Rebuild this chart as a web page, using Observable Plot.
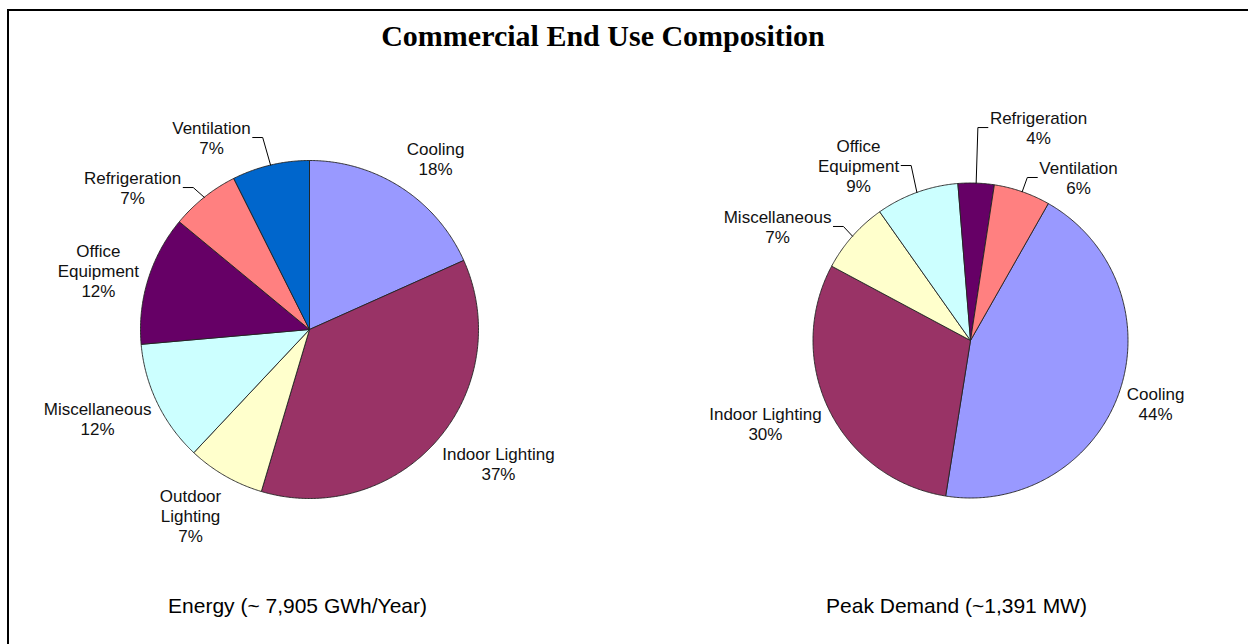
<!DOCTYPE html>
<html>
<head>
<meta charset="utf-8">
<script src="https://cdn.jsdelivr.net/npm/d3@7"></script>
<script src="https://cdn.jsdelivr.net/npm/@observablehq/plot@0.6"></script>
<style>
  html, body { margin: 0; padding: 0; background: #fff; }
  #wrap { position: relative; width: 1248px; height: 644px; overflow: hidden; }
  #frame { position: absolute; left: 7px; top: 9px; width: 1300px; height: 700px;
           border-left: 2.5px solid #000; border-top: 2.5px solid #000; box-sizing: border-box; }
  #title { position: absolute; left: 0; top: 19px; width: 1206px; text-align: center;
           font-family: "Liberation Serif", "Times New Roman", serif; font-weight: bold;
           font-size: 30px; line-height: 34px; color: #000; z-index: 2; }
  #chart { position: absolute; left: 0; top: 0; }
</style>
</head>
<body>
<div id="wrap">
  <div id="frame"></div>
  <div id="title">Commercial End Use Composition</div>
  <div id="chart"></div>
</div>
<script>
// ---- data ----
const energyLabels = ["Cooling", "Indoor Lighting", "Outdoor Lighting", "Miscellaneous", "Office Equipment", "Refrigeration", "Ventilation"];
const energyShare  = [18.3, 36.3, 7.4, 11.6, 12.4, 6.6, 7.4];
const energyPct    = [18, 37, 7, 12, 12, 7, 7];

const demandLabels = ["Cooling", "Indoor Lighting", "Miscellaneous", "Office Equipment", "Refrigeration", "Ventilation"];
const demandShare  = [44.3, 30.3, 7.4, 8.5, 3.7, 5.8];
const demandPct    = [44, 30, 7, 9, 4, 6];

const energyCaption = "Energy (~ 7,905 GWh/Year)";
const demandCaption = "Peak Demand (~1,391 MW)";

// ---- layout / style ----
const palette = ["#9999FF", "#993366", "#FFFFCC", "#CCFFFF", "#660066", "#FF8080", "#0066CC"];
const wrapNames = {"Outdoor Lighting": "Outdoor\nLighting", "Office Equipment": "Office\nEquipment"};
const FONT = "Liberation Sans, Arial, sans-serif";
const LABEL_SIZE = 17;

const pies = [
  {
    labels: energyLabels, share: energyShare, pct: energyPct, caption: energyCaption,
    cx: 309, cy: 329, r: 169, start: 0, captionY: 606,
    // label centres, in units of the pie radius, relative to the pie centre
    labelPos: [[0.746, -1.012], [1.118, 0.793], [-0.704, 1.101], [-1.254, 0.527], [-1.249, -0.349], [-1.047, -0.840], [-0.580, -1.136]],
    leader:   [false, false, false, false, false, true, true]
  },
  {
    labels: demandLabels, share: demandShare, pct: demandPct, caption: demandCaption,
    cx: 970, cy: 340, r: 157.5, start: 29.6, captionY: 606,
    labelPos: [[1.175, 0.400], [-1.302, 0.527], [-1.225, -0.724], [-0.711, -1.111], [0.432, -1.352], [0.686, -1.035]],
    leader:   [false, false, true, true, true, true]
  }
];

const ctx = document.createElement("canvas").getContext("2d");
ctx.font = `${LABEL_SIZE}px Liberation Sans`;

const pt = (p, angDeg, rad) => {
  const a = angDeg * Math.PI / 180;
  return [p.cx + rad * Math.sin(a), p.cy - rad * Math.cos(a)];
};

const sliceRows = [], labelRows = [], leaderRows = [], captionRows = [];
pies.forEach((p, pi) => {
  const total = d3.sum(p.share);
  let acc = p.start;
  p.labels.forEach((name, i) => {
    const a0 = acc, a1 = acc + p.share[i] / total * 360;
    acc = a1;
    const key = `${pi}-${i}`;
    const color = palette[i];
    sliceRows.push({key, color, x: p.cx, y: p.cy});
    const n = Math.max(2, Math.ceil((a1 - a0) / 0.5));
    for (let k = 0; k <= n; k++) {
      const [x, y] = pt(p, a0 + (a1 - a0) * k / n, p.r);
      sliceRows.push({key, color, x, y});
    }
    sliceRows.push({key, color, x: p.cx, y: p.cy});

    const text = (wrapNames[name] || name) + "\n" + p.pct[i] + "%";
    const lx = p.cx + p.labelPos[i][0] * p.r;
    const ly = p.cy + p.labelPos[i][1] * p.r;
    labelRows.push({text, x: lx, y: ly});

    if (p.leader[i]) {
      const lines = text.split("\n");
      const w = d3.max(lines, s => ctx.measureText(s).width);
      const [ax, ay] = pt(p, (a0 + a1) / 2, p.r);
      const s = ax > lx ? 1 : -1;
      const edge = lx + s * w / 2;
      const run = Math.min(12, Math.abs(ax - edge));
      leaderRows.push({key, x: edge + s * 2, y: ly});
      leaderRows.push({key, x: edge + s * run, y: ly});
      leaderRows.push({key, x: ax, y: ay});
    }
  });
  captionRows.push({text: p.caption, x: p.cx - 12 + (pi ? -2 : 0), y: p.captionY});
});

const chart = Plot.plot({
  width: 1248, height: 644, margin: 0,
  x: {domain: [0, 1248], range: [0, 1248], axis: null},
  y: {domain: [0, 644], range: [0, 644], axis: null},
  color: {type: "identity"},
  style: {background: "transparent", fontFamily: FONT},
  marks: [
    Plot.line(sliceRows, {x: "x", y: "y", z: "key", fill: "color", stroke: "#222", strokeWidth: 0.9, strokeLinejoin: "miter", curve: "linear"}),
    Plot.line(leaderRows, {x: "x", y: "y", z: "key", stroke: "#000", strokeWidth: 1, curve: "linear"}),
    Plot.text(labelRows, {x: "x", y: "y", text: "text", fontSize: LABEL_SIZE, lineHeight: 1.2, fill: "#111", fontFamily: FONT}),
    Plot.text(captionRows, {x: "x", y: "y", text: "text", fontSize: 21, fill: "#000", fontFamily: FONT})
  ]
});
document.getElementById("chart").appendChild(chart);
</script>
</body>
</html>
